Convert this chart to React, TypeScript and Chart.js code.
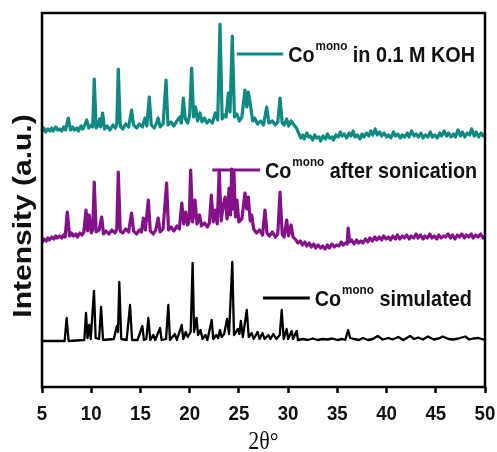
import React, { useEffect, useRef } from "react";
import { Chart, registerables } from "chart.js";

Chart.register(...registerables);

// 2θ range and tick labels
const X_MIN = 5;
const X_MAX = 50;
const X_TICKS = [5, 10, 15, 20, 25, 30, 35, 40, 45, 50];
const Y_MIN = 0;
const Y_MAX = 374;

// Series names
const NAME_BASE = "Co";
const NAME_SUP = "mono";
const NAME_KOH = " in 0.1 M KOH";
const NAME_SON = " after sonication";
const NAME_SIM = " simulated";

const COLOR_KOH = "#0e8a82";
const COLOR_SON = "#84118a";
const COLOR_SIM = "#000000";

// [2θ, intensity (offset, a.u.)]
const simulated: [number, number][] = [
  [5, 46], [7.3, 46], [7.5, 69], [7.7, 46], [9.3, 47], [9.47, 74], [9.62, 49], [9.8, 62], [9.95, 48],
  [10.28, 96], [10.45, 49], [10.8, 48], [11.0, 80], [11.2, 47], [12.3, 48], [12.6, 61], [12.72, 55],
  [12.85, 105], [13.05, 48], [13.6, 47], [13.94, 82], [14.15, 47], [14.7, 47], [15.2, 61], [15.35, 47],
  [15.6, 48], [15.8, 69], [16.0, 47], [16.3, 52], [16.5, 47], [16.99, 59], [17.15, 47], [17.6, 48],
  [17.83, 82], [18.0, 47], [18.5, 53], [18.7, 47], [19.19, 62], [19.35, 48], [19.6, 55], [19.8, 50],
  [20.1, 55], [20.3, 124], [20.45, 55], [20.7, 69], [20.85, 52], [21.1, 57], [21.3, 48], [21.6, 52],
  [21.8, 47], [22.24, 67], [22.4, 48], [22.7, 52], [22.9, 49], [23.08, 57], [23.25, 50], [23.5, 53],
  [23.8, 68], [24.0, 53], [24.33, 125], [24.5, 52], [24.9, 58], [25.05, 53], [25.2, 66], [25.4, 50],
  [25.8, 77], [26.0, 50], [26.3, 54], [26.5, 48], [26.9, 55], [27.1, 48], [27.4, 54], [27.6, 48],
  [28.0, 52], [28.2, 48], [28.5, 53], [28.8, 48], [29.15, 52], [29.35, 77], [29.55, 48], [29.85, 58],
  [30.0, 48], [30.36, 56], [30.5, 48], [30.87, 56], [31.0, 47], [31.5, 48], [32.0, 47], [32.5, 48.5],
  [33.0, 47], [33.5, 48], [34.0, 47.5], [34.5, 48.5], [35.0, 47], [35.5, 48], [35.8, 47], [36.1, 57],
  [36.3, 49], [36.7, 48], [37.2, 47], [37.6, 49], [38.1, 47], [38.6, 48], [39.1, 51], [39.6, 47.5],
  [40.2, 49], [40.6, 47.5], [41.2, 50], [41.7, 47], [42.4, 51], [42.8, 48], [43.2, 49.5], [43.7, 47.5],
  [44.2, 50.5], [44.8, 47.5], [45.3, 48.5], [45.7, 50.5], [46.3, 48], [46.8, 47.5], [47.3, 48.5],
  [48.0, 50.5], [48.4, 47.5], [48.8, 48.5], [49.3, 49], [50, 47],
];

const sonicated: [number, number][] = [
  [5.0, 145], [5.2, 148], [5.4, 146], [5.6, 149], [5.75, 147], [6.0, 150], [6.2, 148], [6.4, 151],
  [6.55, 149], [6.8, 151], [7.0, 149], [7.2, 152], [7.35, 150], [7.57, 175], [7.8, 151], [8.0, 154],
  [8.2, 151], [8.45, 153], [8.6, 150], [8.85, 154], [9.05, 152], [9.25, 155],
  [9.47, 177], [9.62, 156], [9.8, 172], [10.0, 154], [10.15, 157], [10.31, 205], [10.5, 155], [10.8, 157],
  [11.06, 170], [11.25, 153], [11.5, 156], [11.8, 153], [12.1, 157], [12.4, 154], [12.6, 158], [12.75, 215],
  [12.95, 156], [13.2, 154], [13.5, 158], [13.8, 155], [14.1, 174], [14.3, 156], [14.6, 153], [14.9, 157],
  [15.1, 155], [15.3, 169], [15.5, 157], [15.8, 187], [16.0, 156], [16.3, 153], [16.55, 157], [16.8, 169],
  [17.0, 155], [17.3, 158], [17.66, 204], [17.85, 157], [18.1, 160], [18.4, 156], [18.7, 161], [18.95, 158],
  [19.2, 184], [19.4, 163], [19.6, 175], [19.8, 162], [19.95, 166], [20.1, 217], [20.3, 165], [20.54, 187],
  [20.75, 163], [21.0, 172], [21.2, 161], [21.5, 164], [21.8, 160], [22.0, 164], [22.2, 192], [22.4, 165],
  [22.6, 177], [22.8, 163], [23.0, 217], [23.2, 166], [23.4, 181], [23.6, 190], [23.8, 168], [24.0, 199],
  [24.15, 172], [24.27, 218], [24.4, 178], [24.5, 215], [24.65, 170], [24.8, 187], [25.0, 165], [25.3, 168],
  [25.62, 194], [25.8, 178], [25.96, 190], [26.15, 166], [26.3, 172], [26.5, 158], [26.8, 154], [27.1, 157],
  [27.4, 152], [27.65, 177], [27.85, 154], [28.1, 151], [28.4, 155], [28.7, 150], [28.95, 153], [29.18, 195],
  [29.4, 153], [29.6, 150], [29.85, 167], [30.05, 151], [30.3, 162], [30.5, 150], [30.8, 147], [31.0, 144],
  [31.25, 146], [31.45, 142], [31.7, 145], [31.9, 141], [32.15, 144], [32.35, 140], [32.6, 143], [32.8, 139],
  [33.05, 142], [33.3, 139], [33.5, 141], [33.75, 138], [34.0, 142], [34.2, 139], [34.45, 143], [34.7, 140],
  [34.9, 142], [35.15, 141], [35.4, 145], [35.6, 142], [35.85, 144], [36.0, 143], [36.1, 159], [36.25, 145],
  [36.45, 147], [36.7, 143], [36.95, 147], [37.15, 144], [37.4, 146], [37.6, 144], [37.85, 148], [38.1, 145],
  [38.3, 149], [38.55, 146], [38.8, 150], [39.0, 147], [39.25, 150], [39.5, 147], [39.7, 151], [39.95, 148],
  [40.2, 150], [40.4, 147], [40.65, 151], [40.9, 148], [41.1, 152], [41.35, 148], [41.6, 151], [41.8, 149],
  [42.05, 152], [42.3, 148], [42.5, 151], [42.75, 149], [43.0, 153], [43.2, 149], [43.45, 152], [43.7, 148],
  [43.9, 151], [44.15, 149], [44.4, 153], [44.6, 149], [44.85, 151], [45.1, 148], [45.3, 152], [45.55, 149],
  [45.8, 151], [46.0, 150], [46.25, 153], [46.5, 149], [46.7, 152], [46.95, 148], [47.2, 152], [47.4, 150],
  [47.65, 153], [47.9, 149], [48.1, 152], [48.35, 150], [48.6, 153], [48.8, 149], [49.05, 152], [49.3, 150],
  [49.55, 153], [49.8, 149], [50.0, 151],
];

const inKOH: [number, number][] = [
  [5.0, 256], [5.2, 259], [5.35, 255], [5.6, 258], [5.8, 256], [6.0, 259], [6.15, 256], [6.4, 260],
  [6.6, 257], [6.8, 258], [7.0, 256], [7.2, 260], [7.4, 257], [7.67, 269], [7.9, 257], [8.1, 260],
  [8.3, 257], [8.55, 259], [8.7, 256], [8.95, 261], [9.15, 258], [9.3, 261],
  [9.54, 267], [9.75, 259], [10.0, 262], [10.15, 260], [10.31, 308], [10.5, 259], [10.7, 262], [10.85, 268],
  [10.95, 260], [11.16, 274], [11.35, 258], [11.6, 261], [11.9, 257], [12.2, 262], [12.45, 259], [12.6, 263],
  [12.75, 318], [12.95, 261], [13.2, 258], [13.5, 263], [13.8, 260], [14.1, 277], [14.3, 262], [14.6, 259],
  [14.9, 263], [15.2, 260], [15.46, 269], [15.65, 261], [15.9, 290], [16.1, 262], [16.4, 259], [16.6, 263],
  [16.8, 269], [17.0, 260], [17.3, 263], [17.6, 307], [17.8, 262], [18.1, 265], [18.4, 261], [18.7, 266],
  [19.0, 270], [19.15, 264], [19.36, 289], [19.55, 268], [19.8, 264], [20.0, 272], [20.2, 319], [20.4, 270],
  [20.6, 280], [20.8, 266], [21.05, 274], [21.25, 265], [21.5, 269], [21.75, 264], [22.0, 267], [22.3, 264],
  [22.6, 274], [22.85, 267], [23.08, 363], [23.3, 268], [23.5, 272], [23.7, 270], [23.93, 294], [24.1, 275],
  [24.33, 351], [24.55, 270], [24.8, 273], [25.05, 266], [25.3, 270], [25.62, 297], [25.8, 280], [25.96, 295],
  [26.2, 280], [26.4, 266], [26.6, 269], [26.9, 263], [27.2, 266], [27.5, 262], [27.82, 280], [28.05, 264],
  [28.4, 266], [28.7, 262], [28.95, 265], [29.18, 289], [29.4, 264], [29.6, 262], [29.85, 268], [30.05, 261],
  [30.3, 266], [30.6, 262], [30.85, 259], [31.1, 253], [31.3, 249], [31.5, 252], [31.65, 248], [31.9, 254],
  [32.1, 250], [32.25, 251], [32.5, 247], [32.7, 252], [32.9, 249], [33.15, 250], [33.3, 246], [33.55, 251],
  [33.8, 248], [34.0, 253], [34.2, 249], [34.45, 250], [34.6, 247], [34.85, 252], [35.1, 250], [35.3, 255],
  [35.5, 251], [35.7, 253], [35.95, 249], [36.2, 254], [36.4, 251], [36.6, 256], [36.8, 250], [37.05, 252],
  [37.3, 248], [37.5, 253], [37.7, 250], [37.95, 254], [38.2, 251], [38.4, 256], [38.6, 252], [38.85, 258],
  [39.05, 252], [39.3, 255], [39.5, 251], [39.75, 254], [40.0, 250], [40.2, 252], [40.45, 249], [40.7, 255],
  [40.9, 251], [41.15, 253], [41.4, 249], [41.6, 252], [41.85, 250], [42.1, 254], [42.3, 250], [42.55, 256],
  [42.8, 251], [43.0, 253], [43.25, 250], [43.5, 254], [43.7, 249], [43.95, 252], [44.2, 250], [44.45, 255],
  [44.65, 250], [44.9, 252], [45.15, 249], [45.4, 254], [45.6, 251], [45.85, 256], [46.1, 251], [46.3, 254],
  [46.55, 250], [46.8, 253], [47.0, 250], [47.25, 257], [47.5, 251], [47.7, 255], [47.95, 250], [48.2, 254],
  [48.45, 252], [48.65, 258], [48.9, 251], [49.1, 255], [49.35, 250], [49.6, 254], [49.8, 251], [50.0, 253],
];

// label anchors (2θ of line start/end, intensity of line)
const LABEL_KOH = { x0: 24.8, x1: 29.5, y: 333 };
const LABEL_SON = { x0: 22.3, x1: 27.15, y: 217 };
const LABEL_SIM = { x0: 27.45, x1: 32.2, y: 89 };

const SANS = "'Liberation Sans', Arial, Helvetica, sans-serif";
const SERIF = "'Liberation Serif', 'Times New Roman', serif";

function drawSeriesLabel(ctx: CanvasRenderingContext2D, x: number, y: number, rest: string) {
  ctx.save();
  ctx.translate(x, y);
  ctx.scale(0.9, 1);
  ctx.fillStyle = "#111";
  ctx.textBaseline = "alphabetic";
  ctx.textAlign = "left";
  const big = `bold 22px ${SANS}`;
  const small = `bold 13px ${SANS}`;
  ctx.font = big;
  ctx.fillText(NAME_BASE, 0, 0);
  let w = ctx.measureText(NAME_BASE).width + 1;
  ctx.font = small;
  ctx.fillText(NAME_SUP, w, -11.5);
  w += ctx.measureText(NAME_SUP).width;
  ctx.font = big;
  ctx.fillText(rest, w, 0);
  ctx.restore();
}

const decorPlugin = {
  id: "decor",
  afterDatasetsDraw(chart: any) {
    const ctx: CanvasRenderingContext2D = chart.ctx;
    const { left, right, top, bottom } = chart.chartArea;
    const xs = chart.scales.x;
    const ys = chart.scales.y;
    ctx.save();
    // frame
    ctx.strokeStyle = "#000";
    ctx.lineWidth = 2.5;
    ctx.strokeRect(left, top, right - left, bottom - top);

    // series labels
    const labels = [
      { a: LABEL_KOH, c: COLOR_KOH, t: NAME_KOH },
      { a: LABEL_SON, c: COLOR_SON, t: NAME_SON },
      { a: LABEL_SIM, c: COLOR_SIM, t: NAME_SIM },
    ];
    for (const l of labels) {
      const px0 = xs.getPixelForValue(l.a.x0);
      const px1 = xs.getPixelForValue(l.a.x1);
      const py = ys.getPixelForValue(l.a.y);
      ctx.strokeStyle = l.c;
      ctx.lineWidth = 3;
      ctx.beginPath();
      ctx.moveTo(px0, py);
      ctx.lineTo(px1, py);
      ctx.stroke();
      drawSeriesLabel(ctx, px1 + 5, py + 7.5, l.t);
    }

    // x tick labels
    ctx.fillStyle = "#111";
    ctx.textAlign = "center";
    ctx.textBaseline = "alphabetic";
    for (const t of X_TICKS) {
      const px = xs.getPixelForValue(t);
      ctx.save();
      ctx.translate(px, bottom + 33);
      ctx.scale(0.89, 1);
      ctx.font = `bold 21px ${SANS}`;
      ctx.fillText(String(t), 0, 0);
      ctx.restore();
    }

    // x title
    ctx.save();
    ctx.translate((left + right) / 2, bottom + 62);
    ctx.scale(0.88, 1);
    ctx.font = `25px ${SERIF}`;
    ctx.fillText("2θ°", 0, 0);
    ctx.restore();

    // y title
    ctx.save();
    ctx.translate(31, (top + bottom) / 2 + 16);
    ctx.rotate(-Math.PI / 2);
    ctx.scale(1, 0.85);
    ctx.font = `bold 30px ${SANS}`;
    ctx.textAlign = "center";
    ctx.fillText("Intensity (a.u.)", 0, 0);
    ctx.restore();

    ctx.restore();
  },
};

const toPts = (arr: [number, number][]) => arr.map(([x, y]) => ({ x, y }));

export default function App() {
  const ref = useRef<HTMLCanvasElement | null>(null);
  useEffect(() => {
    if (!ref.current) return;
    const common = { showLine: true, pointRadius: 0, tension: 0, borderJoinStyle: "round", borderCapStyle: "round" };
    const chart = new Chart(ref.current, {
      type: "scatter",
      data: {
        datasets: [
          { ...common, label: NAME_BASE + NAME_SIM, data: toPts(simulated), borderColor: COLOR_SIM, borderWidth: 2.3 },
          { ...common, label: NAME_BASE + NAME_SON, data: toPts(sonicated), borderColor: COLOR_SON, borderWidth: 3.2 },
          { ...common, label: NAME_BASE + NAME_KOH, data: toPts(inKOH), borderColor: COLOR_KOH, borderWidth: 3.2 },
        ],
      },
      options: {
        animation: false,
        responsive: false,
        devicePixelRatio: 1,
        layout: { padding: { left: 42, right: 12, top: 13, bottom: 0 } },
        plugins: { legend: { display: false }, tooltip: { enabled: false } },
        scales: {
          x: {
            type: "linear",
            position: "bottom",
            min: X_MIN,
            max: X_MAX,
            afterBuildTicks: (scale: any) => {
              scale.ticks = X_TICKS.map((v) => ({ value: v }));
            },
            afterFit: (scale: any) => {
              scale.height = 65;
            },
            ticks: { color: "rgba(0,0,0,0)", font: { size: 12 } },
            grid: { drawOnChartArea: false, drawTicks: true, tickLength: 6, tickWidth: 2.5, tickColor: "#000", color: "#000" },
            border: { display: false },
          },
          y: { type: "linear", min: Y_MIN, max: Y_MAX, display: false },
        },
      },
      plugins: [decorPlugin],
    } as any);
    return () => chart.destroy();
  }, []);
  return (
    <canvas
      ref={ref}
      width={497}
      height={452}
      style={{ position: "absolute", left: 0, top: 0, display: "block" }}
    />
  );
}
